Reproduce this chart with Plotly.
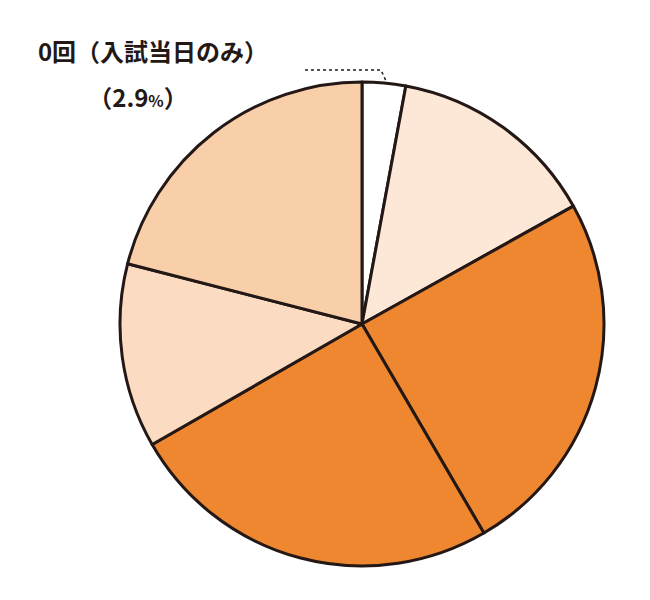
import plotly.graph_objects as go

labels = ["0回（入試当日のみ）", "1回", "2回", "3回", "4回", "5回以上"]
values = [2.9, 14.0, 24.7, 25.1, 12.3, 21.0]
colors = ["#ffffff", "#fde7d6", "#ef8630", "#ef8630", "#fbdcc3", "#f9cfaa"]

W, H = 650, 600
fig = go.Figure(go.Pie(
    labels=labels, values=values, sort=False, direction="clockwise", rotation=0,
    marker=dict(colors=colors, line=dict(color="#231815", width=3)),
    textinfo="none", hoverinfo="none", showlegend=False,
    domain=dict(x=[112/W, 596/W], y=[(H-558)/H, (H-74)/H]),
))

pos = [(145, 47, 93), (458, 165, 207), (502, 343, 385), (330, 440, 483), (190, 325, 367), (270, 187, 232)]
font = "Noto Sans CJK JP"
for i, (x, y1, y2) in enumerate(pos):
    c = "white" if colors[i] == "#ef8630" else "#231815"
    sz, psz = (24, 16) if i == 0 else (28, 18)
    x2 = 130 if i == 0 else x
    fig.add_trace(go.Scatter(
        x=[x, x2], y=[y1, y2], mode="text", hoverinfo="skip", showlegend=False,
        text=["<b>%s</b>" % labels[i],
              "<b>（%.1f<span style='font-size:%dpx'>%%</span>）</b>" % (values[i], psz)],
        textposition="middle center",
        textfont=dict(family=font, size=sz, color=c)))
fig.add_trace(go.Scatter(x=[297, 373, 383], y=[62, 62, 84], mode="lines", hoverinfo="skip",
                         showlegend=False, line=dict(color="#231815", width=1.5, dash="dot")))

fig.update_layout(
    width=W, height=H, margin=dict(l=0, r=0, t=0, b=0),
    paper_bgcolor="white", plot_bgcolor="rgba(0,0,0,0)",
    xaxis=dict(range=[0, W], visible=False, domain=[0, 1], fixedrange=True),
    yaxis=dict(range=[H, 0], visible=False, domain=[0, 1], fixedrange=True),
)
fig.write_html("out.html")
